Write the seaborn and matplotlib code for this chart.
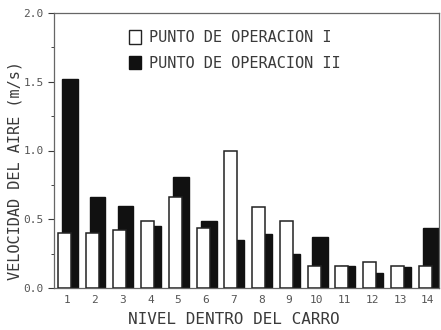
import numpy as np
import pandas as pd
import seaborn as sns
import matplotlib
matplotlib.use("Agg")
import matplotlib.pyplot as plt
from matplotlib.patches import Patch
from matplotlib.ticker import MultipleLocator

# Air velocity at each level inside the cart, for two operating points
niveles = list(range(1, 15))
punto_i = [0.40, 0.40, 0.42, 0.49, 0.66, 0.44, 1.00, 0.59, 0.49, 0.16, 0.16, 0.19, 0.16, 0.16]
punto_ii = [1.52, 0.66, 0.60, 0.45, 0.81, 0.49, 0.35, 0.39, 0.245, 0.37, 0.16, 0.11, 0.15, 0.44]
serie_labels = ["PUNTO DE OPERACION I", "PUNTO DE OPERACION II"]
y_ticks = [0.0, 0.5, 1.0, 1.5, 2.0]

sns.set_theme(style="white")
plt.rcParams["font.family"] = ["DejaVu Sans Mono", "DejaVu Sans"]
ink = "#3a3a3a"

df = pd.DataFrame({"nivel": niveles, "I": punto_i, "II": punto_ii})

fig = plt.figure(figsize=(4.41, 3.30), dpi=100)
ax = fig.add_axes([54 / 441, 1 - 288 / 330, (439 - 54) / 441, (288 - 13) / 330])

# Dark bars sit slightly to the right, open bars overlap them on the left
sns.barplot(x=df["nivel"] + 0.11, y=df["II"], native_scale=True, width=0.55,
            color="#111111", edgecolor="#111111", linewidth=1.0,
            saturation=1, ax=ax, zorder=2)
sns.barplot(x=df["nivel"] - 0.10, y=df["I"], native_scale=True, width=0.47,
            color="white", edgecolor="#222222", linewidth=1.1,
            saturation=1, ax=ax, zorder=3)

ax.set_xlim(0.53, 14.40)
ax.set_ylim(0, 2.0)
ax.set_xticks(niveles)
ax.set_xticklabels([str(n) for n in niveles])
ax.set_yticks(y_ticks)
ax.set_yticklabels([f"{v:.1f}" for v in y_ticks])
ax.yaxis.set_minor_locator(MultipleLocator(0.25))

ax.tick_params(axis="both", labelsize=8, colors=ink, labelcolor="#555555")
ax.tick_params(axis="y", which="major", direction="out", length=4, width=0.8, left=True)
ax.tick_params(axis="y", which="minor", direction="out", length=2, width=0.6, left=True)
ax.tick_params(axis="x", length=0, pad=5)

for s in ax.spines.values():
    s.set_color("#666666")
    s.set_linewidth(0.9)

ax.set_xlabel("NIVEL DENTRO DEL CARRO", fontsize=11.5, color=ink)
ax.set_ylabel("VELOCIDAD DEL AIRE (m/s)", fontsize=11, color=ink)
ax.xaxis.set_label_coords((234 - 54) / 385, -(312 - 288) / 275)
ax.yaxis.set_label_coords(-(54 - 23) / 385, (288 - 170) / 275)

handles = [Patch(facecolor="white", edgecolor="#222222", linewidth=1.0),
           Patch(facecolor="#111111", edgecolor="#111111", linewidth=1.0)]
fig.legend(handles, serie_labels, loc="upper left",
           bbox_to_anchor=(129 / 441, 1 - 30 / 330), frameon=False,
           fontsize=11, labelcolor=ink, handlelength=0.8, handleheight=1.0,
           handletextpad=0.5, labelspacing=0.7, borderpad=0, borderaxespad=0)

fig.savefig("out.png", dpi=100)
